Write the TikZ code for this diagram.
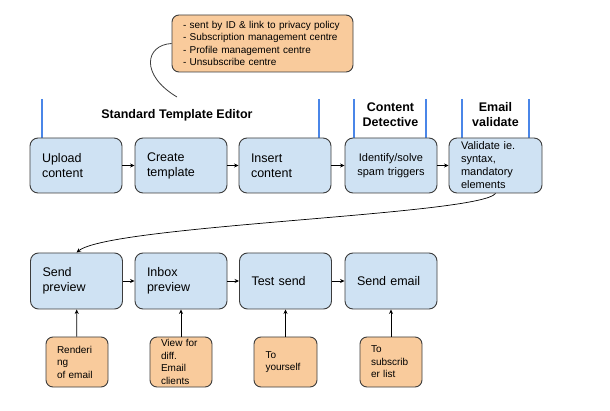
\documentclass[tikz,border=0pt]{standalone}
\usepackage{fontspec}
\setmainfont{Liberation Sans}
\usetikzlibrary{arrows.meta}
\definecolor{boxblue}{HTML}{CFE2F3}
\definecolor{boxorange}{HTML}{F9CB9C}
\definecolor{edgegray}{HTML}{3C3C3C}
\definecolor{barblue}{HTML}{4A86E8}
\tikzset{
  mainbox/.style={draw=edgegray, line width=0.9pt, fill=boxblue, rounded corners=8pt,
    minimum width=92pt, minimum height=55pt, inner sep=0pt, text width=68pt, align=left,
    font=\fontsize{12.5}{15}\selectfont},
  notebox/.style={draw=edgegray, line width=0.9pt, fill=boxorange, rounded corners=7pt,
    minimum width=62pt, minimum height=50pt, inner sep=0pt, text width=40pt, align=left,
    font=\fontsize{10}{12.5}\selectfont},
  titlelbl/.style={font=\bfseries\fontsize{12.5}{15}\selectfont, align=center, inner sep=0pt},
  flow/.style={draw=black, line width=0.7pt, -{Stealth[length=4.5pt,width=4pt]}},
  bar/.style={draw=barblue, line width=2pt},
}
\begin{document}
\begin{tikzpicture}[x=1pt,y=-1pt]
\useasboundingbox (0,0) rectangle (610,411);
% top note
\node[notebox, minimum width=181pt, minimum height=57pt, text width=159pt] (note) at (262.5,43.5)
  {- sent by ID \& link to privacy policy\\- Subscription management centre\\- Profile management centre\\- Unsubscribe centre};
\coordinate (noteend) at (177,97);
\draw[edgegray, line width=0.8pt] (note.west) .. controls (145,45) and (140,75) .. (noteend);
% titles
\node[titlelbl] (t1) at (177,115) {Standard Template Editor};
\node[titlelbl] (t2) at (390.5,115) {Content\\Detective};
\node[titlelbl] (t3) at (495.5,115) {Email\\validate};
% blue bars
\draw[bar] (42,99) -- (42,138);
\draw[bar] (319,99) -- (319,138);
\draw[bar] (354,99) -- (354,138);
\draw[bar] (426,99) -- (426,138);
\draw[bar] (462,99) -- (462,138);
\draw[bar] (529,99) -- (529,138);
% top row
\node[mainbox] (upload) at (76,165.5) {Upload\\content};
\node[mainbox] (create) at (181,165.5) {Create\\template};
\node[mainbox] (insert) at (285,165.5) {Insert\\content};
\node[mainbox, align=center, font=\fontsize{11}{13.5}\selectfont] (ident) at (391,165.5) {Identify/solve\\spam triggers};
\node[mainbox, minimum width=93pt, text width=69pt, font=\fontsize{11}{13}\selectfont] (valid) at (495.5,165.5) {Validate ie.\\syntax,\\mandatory\\elements};
% bottom row
\node[mainbox, minimum height=56pt] (sendprev) at (76.5,281) {Send\\preview};
\node[mainbox, minimum height=56pt] (inbox) at (181,281) {Inbox\\preview};
\node[mainbox, minimum height=56pt] (test) at (285.5,281) {Test send};
\node[mainbox, minimum height=56pt] (sendmail) at (391,281) {Send email};
% notes bottom
\node[notebox] (n1) at (77,362) {Renderi\\ng\\of email};
\node[notebox] (n2) at (181,362) {View for\\diff.\\Email\\clients};
\node[notebox, minimum width=63pt] (n3) at (285.5,362) {To\\yourself};
\node[notebox] (n4) at (391,362) {To\\subscrib\\er list};
% connectors
\draw[flow] (upload) -- (create);
\draw[flow] (create) -- (insert);
\draw[flow] (insert) -- (ident);
\draw[flow] (ident) -- (valid);
\draw[flow] (sendprev) -- (inbox);
\draw[flow] (inbox) -- (test);
\draw[flow] (test) -- (sendmail);
\draw[flow] (valid.south) .. controls (480,215) and (110,225) .. (sendprev.north);
\draw[flow] (n1) -- (sendprev);
\draw[flow] (n2) -- (inbox);
\draw[flow] (n3) -- (test);
\draw[flow] (n4) -- (sendmail);
\end{tikzpicture}
\end{document}
